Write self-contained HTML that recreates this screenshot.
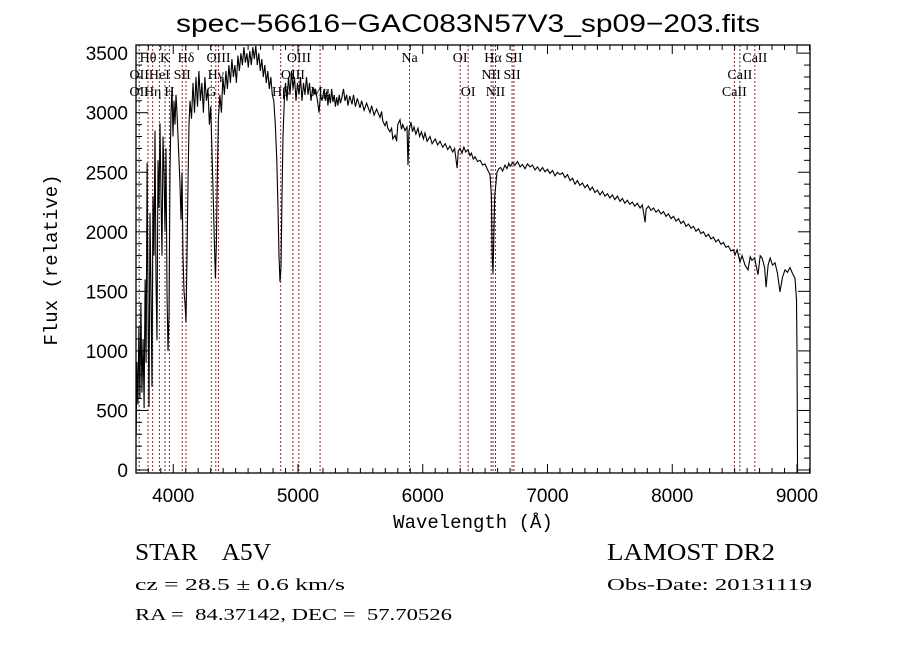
<!DOCTYPE html>
<html><head><meta charset="utf-8"><style>
html,body{margin:0;padding:0;background:#fff;}
svg{display:block;}
text{white-space:pre;}
</style></head><body>
<svg id="chart" width="900" height="649" viewBox="0 0 900 649" xmlns="http://www.w3.org/2000/svg" xml:space="preserve">
<rect width="900" height="649" fill="#fff"/>
<text x="176" y="32" font-family="Liberation Sans, sans-serif" font-size="25" textLength="584" lengthAdjust="spacingAndGlyphs">spec−56616−GAC083N57V3_sp09−203.fits</text>
<g id="lines"></g>
<g id="labels" font-family="Liberation Serif, serif" font-size="14"></g>
<path id="spec" fill="none" stroke="#000" stroke-width="1.1"/>
<g id="axes"></g>
<text x="473" y="528" text-anchor="middle" font-family="Liberation Mono, monospace" font-size="19">Wavelength (Å)</text>
<text transform="translate(57,260) rotate(-90)" text-anchor="middle" font-family="Liberation Mono, monospace" font-size="19">Flux (relative)</text>
<text x="135" y="560" font-family="Liberation Serif, serif" font-size="24" textLength="136" lengthAdjust="spacingAndGlyphs">STAR    A5V</text>
<text x="607" y="560" font-family="Liberation Serif, serif" font-size="24" textLength="168" lengthAdjust="spacingAndGlyphs">LAMOST DR2</text>
<text x="135" y="590" font-family="Liberation Serif, serif" font-size="17" textLength="210" lengthAdjust="spacingAndGlyphs">cz = 28.5 ± 0.6 km/s</text>
<text x="607" y="590" font-family="Liberation Serif, serif" font-size="17" textLength="205" lengthAdjust="spacingAndGlyphs">Obs-Date: 20131119</text>
<text x="135" y="620" font-family="Liberation Serif, serif" font-size="17" textLength="317" lengthAdjust="spacingAndGlyphs">RA =  84.37142, DEC =  57.70526</text>
</svg>
<script>
const wave = [3703,3709,3717,3725,3733,3741,3749,3758,3766,3774,3782,3790,3798,3806,3814,3822,3830,3838,3846,3854,3862,3870,3878,3886,3894,3902,3910,3918,3926,3934,3942,3950,3958,3966,3974,3982,3990,3998,4006,4014,4022,4030,4038,4046,4054,4062,4070,4078,4086,4094,4102,4110,4118,4126,4134,4146,4158,4170,4182,4194,4206,4218,4230,4242,4254,4266,4278,4290,4300,4310,4320,4330,4338,4346,4354,4362,4374,4386,4398,4410,4422,4434,4446,4458,4470,4482,4494,4506,4518,4530,4542,4554,4566,4578,4590,4602,4614,4626,4638,4650,4662,4674,4686,4698,4710,4722,4734,4746,4758,4770,4782,4794,4806,4818,4830,4840,4848,4856,4864,4872,4880,4890,4900,4912,4924,4936,4948,4960,4972,4984,4996,5008,5020,5032,5044,5056,5068,5080,5092,5104,5116,5128,5140,5156,5168,5180,5192,
5210,5220,5230,5240,5250,5260,5270,5280,5290,5300,5310,5320,5330,5340,5350,5365,5377,5390,5400,5415,5433,5445,5460,5475,5497,5510,5530,5550,5577,5590,5610,5630,5657,5670,5680,5697,5710,5720,5737,5750,5760,5778,5790,5800,5818,5830,5840,5858,5874,5882,5890,5906,5918,5930,5945,5962,5975,5990,6005,6018,6035,6058,6075,6100,6120,6138,6160,6180,6200,6218,6240,6255,6275,6285,6299,6315,6330,6345,6363,6378,6390,6405,6419,6440,6460,6480,6499,6520,6539,
6550,6557,6563,6569,6577,
6595,6610,6625,6640,6659,6675,6690,6700,6720,6740,6760,6780,6800,6820,6840,6860,6880,6900,6920,6940,6960,6980,7000,7020,7040,7060,7080,7100,7120,7140,7160,7180,7200,7220,7240,7260,7280,7300,7320,7341,7360,7380,7400,7421,7440,7460,7480,7500,7520,7540,7560,7581,7600,7620,7640,7660,7680,7700,7720,7742,7760,7770,7782,7790,7810,7830,7850,7870,7890,7910,7930,7950,7970,7990,8010,8030,8050,8070,8090,8110,8130,8150,8170,8190,8210,8230,8250,8270,8290,8310,8330,8350,8370,8390,8410,8430,8450,8470,8490,8503,
8520,8543,8560,8583,8607,8625,8639,8660,8687,8705,8720,8740,8752,8768,8784,8804,8824,8844,8864,8884,8904,8924,8944,8964,8984,8996,9000,9004];
const flux = [300,900,550,1200,600,1400,650,1100,520,1600,900,2580,1300,530,2160,1500,700,2300,1800,2850,1600,1090,2600,2200,2910,2300,1800,2800,2500,2000,2700,1500,1000,1300,2500,3000,3210,2800,3100,2900,3150,3000,2800,2600,2400,2100,2500,1800,1500,1400,1240,1800,2400,2900,3100,2950,3250,3000,3300,3050,3350,3100,3250,3000,3300,3100,3200,2900,3050,2700,2300,1900,1610,1900,2500,2950,3150,3000,3300,3150,3350,3200,3400,3250,3450,3300,3400,3250,3480,3350,3500,3400,3550,3420,3500,3380,3520,3400,3550,3450,3560,3400,3500,3350,3450,3300,3400,3250,3350,3200,3300,3150,3100,2900,2600,2200,1800,1580,1700,2300,2800,3100,3250,3100,3300,3150,3350,3200,3300,3100,3250,3150,3300,3100,3250,3150,3300,3150,3250,3100,3200,3150,3200,3100,3000,3150,3100,
3200,3100,3180,3060,3160,3080,3200,3090,3150,3050,3130,3060,3150,3080,3120,3200,3100,3150,3060,3140,3070,3150,3050,3120,3040,3100,3020,3080,3000,3060,2980,3030,2960,3010,2930,2890,2930,2870,2840,2870,2780,2810,2760,2900,2940,2860,2900,2850,2880,2560,2850,2920,2840,2880,2820,2870,2800,2840,2780,2830,2760,2800,2740,2780,2730,2760,2710,2740,2690,2720,2670,2700,2535,2680,2700,2660,2710,2670,2690,2640,2660,2610,2630,2590,2600,2560,2570,2520,2480,
2300,1800,1650,1900,2300,
2500,2530,2540,2510,2560,2530,2575,2550,2580,2560,2590,2545,2565,2530,2570,2545,2560,2520,2545,2510,2540,2505,2525,2490,2515,2470,2500,2480,2495,2455,2480,2430,2450,2400,2430,2390,2410,2370,2395,2350,2375,2330,2350,2310,2340,2300,2320,2285,2310,2270,2300,2255,2280,2240,2265,2230,2250,2215,2240,2200,2225,2160,2080,2190,2215,2180,2200,2165,2185,2150,2170,2130,2150,2110,2130,2090,2110,2070,2090,2045,2065,2030,2045,2005,2025,1985,2000,1960,1980,1940,1955,1915,1935,1895,1910,1870,1880,1840,1850,1805,
1850,1745,1800,1720,1680,1790,1760,1780,1640,1800,1780,1700,1535,1720,1780,1720,1740,1650,1495,1620,1680,1660,1700,1650,1610,1430,1000,50];
const lineWaves = [3727,3798,3835,3889,3934,3969,4072,4102,4305,4341,4363,4861,4959,5007,5177,5894,6300,6364,6548,6563,6583,6716,6731,8498,8542,8662];
const labelText = ["Hθ","K","Hδ","OIII","OIII","Na","OI","Hα","SII","CaII","OII","HeI","SII","Hγ","OIII","NII","SII","CaII","OII","Hη","H","G","Hβ","Mg","OI","NII","CaII"];
const labelWave = [3798,3934,4102,4363,5007,5894,6300,6563,6731,8662,3727,3889,4072,4341,4959,6548,6716,8542,3727,3835,3969,4305,4861,5177,6364,6583,8498];
const labelRow = [0,0,0,0,0,0,0,0,0,0,1,1,1,1,1,1,1,1,2,2,2,2,2,2,2,2,2];
const xTicks = [4000,5000,6000,7000,8000,9000];
const yTicks = [0,500,1000,1500,2000,2500,3000,3500];

const NS="http://www.w3.org/2000/svg";
const L=136,R=810,T=45,B=473;
const X=w=>298+(w-5000)*0.12475;
const Y=v=>470-v*0.1191;
function mk(tag,attrs,parent){const e=document.createElementNS(NS,tag);for(const k in attrs)e.setAttribute(k,attrs[k]);parent.appendChild(e);return e;}

const lg=document.getElementById('lines');
lineWaves.forEach(w=>{
  const e=mk('line',{x1:X(w),x2:X(w),y1:T,y2:B,stroke:'#8b2a2a','stroke-width':1,'stroke-dasharray':'2,2'},lg);
  
  
});
const lb=document.getElementById('labels');
labelText.forEach((t,i)=>{
  const e=mk('text',{x:X(labelWave[i]),y:62+labelRow[i]*17,'text-anchor':'middle'},lb);
  e.textContent=t;
  
  
});

let d='';
wave.forEach((w,i)=>{d+=(i?'L':'M')+X(w).toFixed(1)+','+Math.min(B,Math.max(T,Y(flux[i]))).toFixed(1);});
d+='L'+X(9004).toFixed(1)+','+B;
document.getElementById('spec').setAttribute('d',d);

const ax=document.getElementById('axes');
const box=mk('rect',{x:L,y:T,width:R-L,height:B-T,fill:'none',stroke:'#000','stroke-width':1.3},ax);


for(let w=3800;w<=9100;w+=100){
  const maj=w%1000===0, len=maj?9:5, x=X(w);
  if(x<L||x>R)continue;
  mk('line',{x1:x,x2:x,y1:B,y2:B-len,stroke:'#000'},ax);
  mk('line',{x1:x,x2:x,y1:T,y2:T+len,stroke:'#000'},ax);
}
for(let v=0;v<=3500;v+=100){
  const maj=v%500===0, len=maj?12:6, y=Y(v);
  mk('line',{x1:L,x2:L+len,y1:y,y2:y,stroke:'#000'},ax);
  mk('line',{x1:R,x2:R-len,y1:y,y2:y,stroke:'#000'},ax);
}
xTicks.forEach(w=>{
  const e=mk('text',{x:X(w),y:502,'text-anchor':'middle','font-family':'Liberation Sans, sans-serif','font-size':19},ax);
  e.textContent=w;
  
  
});
yTicks.forEach(v=>{
  const e=mk('text',{x:128,y:Y(v)+7,'text-anchor':'end','font-family':'Liberation Sans, sans-serif','font-size':19},ax);
  e.textContent=v;
  
  
});
</script>
</body></html>
